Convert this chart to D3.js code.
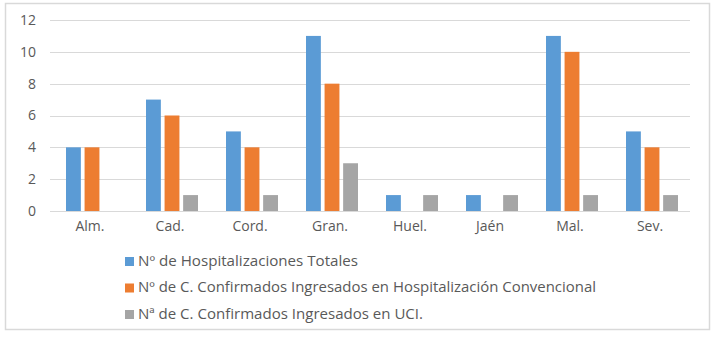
<!DOCTYPE html>
<html><head><meta charset="utf-8">
<script src="https://cdn.jsdelivr.net/npm/d3@7"></script>
<style>body{margin:0;background:#fff}svg{display:block}</style>
</head><body>
<script>
const categories = ["Alm.","Cad.","Cord.","Gran.","Huel.","Jaén","Mal.","Sev."];
const seriesNames = ["Nº de Hospitalizaciones Totales","Nº de C. Confirmados Ingresados en Hospitalización Convencional","Nª de C. Confirmados Ingresados en UCI."];
const hospTotales = [4,7,5,11,1,1,11,5];
const hospConvencional = [4,6,4,8,0,0,10,4];
const uci = [0,1,1,3,1,1,1,1];
const yTicks = [0,2,4,6,8,10,12];
const colors = ["#5B9BD5","#ED7D31","#A5A5A5"];
const series = [hospTotales, hospConvencional, uci];

const W=716,H=338;
const svg=d3.select("body").append("svg").attr("width",W).attr("height",H);
const font="'Open Sans', sans-serif";
svg.append("rect").attr("x",5.5).attr("y",3.5).attr("width",704).attr("height",326)
  .attr("fill","#fff").attr("stroke","#D9D9D9").attr("stroke-width",1.5);

const x=d3.scaleBand().domain(categories).range([50,690]);
const y=d3.scaleLinear().domain([0,12]).range([211,20]);
const xs=d3.scaleBand().domain([0,1,2]).range([0,52]).paddingInner(0.2);

svg.append("g").selectAll("line").data(yTicks).join("line")
  .attr("x1",50).attr("x2",690).attr("y1",d=>Math.round(y(d))+0.5).attr("y2",d=>Math.round(y(d))+0.5)
  .attr("stroke","#D9D9D9").attr("stroke-width",1);

const yAxis=svg.append("g").attr("transform","translate(36,0)")
  .call(d3.axisLeft(y).tickValues(yTicks).tickSize(0).tickPadding(0));
yAxis.select(".domain").remove();
yAxis.selectAll("text").attr("font-family",font).attr("font-size",14).attr("fill","#595959");

const xAxis=svg.append("g").attr("transform","translate(0,221)")
  .call(d3.axisBottom(x).tickSize(0).tickPadding(0));
xAxis.select(".domain").remove();
xAxis.selectAll("text").attr("font-family",font).attr("font-size",14).attr("fill","#595959").attr("dy","0.71em");

series.forEach((vals,si)=>{
  svg.append("g").selectAll("rect").data(categories).join("rect")
    .attr("x",(c)=>x(c)+x.bandwidth()/2-26+xs(si)+2)
    .attr("width",xs.bandwidth())
    .attr("y",(c,i)=>y(vals[i]))
    .attr("height",(c,i)=>y(0)-y(vals[i]))
    .attr("fill",colors[si]);
});

const legWidths=[220,458,285];
const leg=svg.append("g");
seriesNames.forEach((n,i)=>{
  const ly=261+i*26.5;
  leg.append("rect").attr("x",125).attr("y",ly-4).attr("width",9).attr("height",9).attr("fill",colors[i]);
  leg.append("text").attr("x",138).attr("y",ly).attr("dy","0.35em").text(n)
    .attr("font-family",font).attr("font-size",14).attr("fill","#595959")
    .attr("textLength",legWidths[i]).attr("lengthAdjust","spacingAndGlyphs");
});
</script>
</body></html>
